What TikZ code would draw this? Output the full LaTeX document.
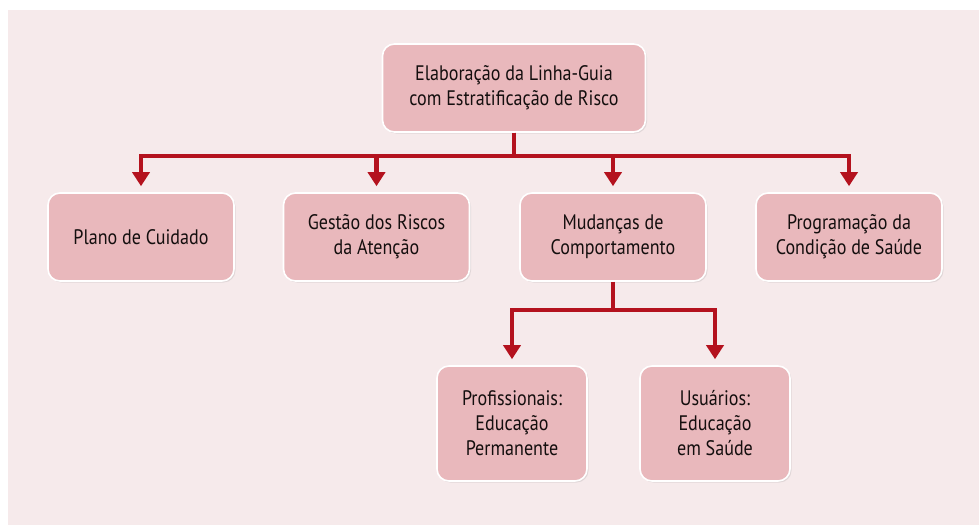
\documentclass[tikz,border=0pt]{standalone}
\usepackage{fontspec}
\setmainfont[FakeStretch=0.86]{PT Sans}
\usetikzlibrary{arrows.meta,shadows}
\definecolor{bgpink}{RGB}{246,234,235}
\definecolor{boxpink}{RGB}{233,184,188}
\definecolor{linkred}{RGB}{180,18,30}
\definecolor{ink}{RGB}{20,14,14}
\begin{document}
\begin{tikzpicture}[x=1pt,y=-1pt,
    box/.style={draw=white,line width=1.6pt,fill=boxpink,rounded corners=12pt,
      minimum width=186pt,minimum height=88pt,align=center,text=ink,
      font=\fontsize{21}{25}\selectfont,
      drop shadow={opacity=0.18,shadow xshift=1.5pt,shadow yshift=-1.5pt}},
    leaf/.style={box,minimum width=150pt,minimum height=115pt},
    link/.style={draw=linkred,line width=4.8pt,shorten >=6pt,
      -{Triangle[width=17pt,length=14pt]}}]
      \useasboundingbox (0,0) rectangle (979,525);
      \fill[bgpink] (8,10) rectangle (979,525);
      \node[box,minimum width=263pt] (guia) at (514,88)
        {Elaboração da Linha-Guia\\com Estratificação de Risco};
      \node[box] (plano) at (141,237) {Plano de Cuidado};
      \node[box] (gestao) at (376.5,237) {Gestão dos Riscos\\da Atenção};
      \node[box] (mudancas) at (613,237) {Mudanças de\\Comportamento};
      \node[box] (programacao) at (849,237) {Programação da\\Condição de Saúde};
      \node[leaf] (profissionais) at (512,423.5) {Profissionais:\\Educação\\Permanente};
      \node[leaf] (usuarios) at (715,423.5) {Usuários:\\Educação\\em Saúde};
      \coordinate (bus1) at (514,156);
      \coordinate (bus2) at (613,310);
      \begin{scope}
        \draw[link] (guia.south) -- (bus1) -| (plano.north);
        \draw[link] (guia.south) -- (bus1) -| (gestao.north);
        \draw[link] (guia.south) -- (bus1) -| (mudancas.north);
        \draw[link] (guia.south) -- (bus1) -| (programacao.north);
        \draw[link] (mudancas.south) -- (bus2) -| (profissionais.north);
        \draw[link] (mudancas.south) -- (bus2) -| (usuarios.north);
      \end{scope}
    \end{tikzpicture}
\end{document}
